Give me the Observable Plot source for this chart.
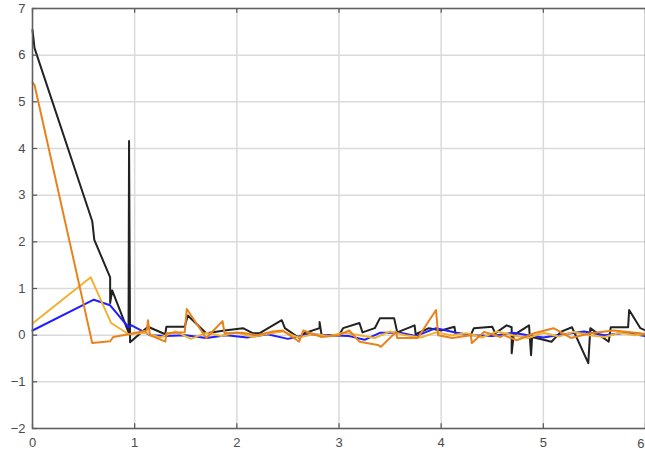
<!DOCTYPE html>
<html>
<head>
<meta charset="utf-8">
<script src="https://cdn.jsdelivr.net/npm/d3@7"></script>
<script src="https://cdn.jsdelivr.net/npm/@observablehq/plot@0.6"></script>
<style>
  html, body { margin: 0; padding: 0; background: #fff; }
  #chart svg { overflow: visible; }
</style>
</head>
<body>
<div id="chart"></div>
<script>
const xTicks = [0, 1, 2, 3, 4, 5, 6];
const yTicks = [-2, -1, 0, 1, 2, 3, 4, 5, 6, 7];

const blackX = [0, 0.02, 0.585, 0.605, 0.76, 0.76, 0.78, 0.94, 0.945, 0.955, 1.13, 1.3, 1.31, 1.49, 1.52, 1.7, 1.88, 2.06, 2.16, 2.22, 2.44, 2.47, 2.61, 2.66, 2.81, 2.81, 2.83, 3.0, 3.04, 3.2, 3.23, 3.35, 3.4, 3.54, 3.57, 3.74, 3.75, 3.88, 4.0, 4.13, 4.14, 4.29, 4.32, 4.5, 4.53, 4.64, 4.69, 4.69, 4.71, 4.86, 4.88, 4.89, 5.08, 5.17, 5.28, 5.44, 5.46, 5.64, 5.66, 5.83, 5.84, 5.95, 6.0];
const blackY = [6.54, 6.15, 2.44, 2.04, 1.24, 0.69, 0.96, 0.06, 4.16, -0.15, 0.18, 0.02, 0.18, 0.18, 0.42, 0.04, 0.1, 0.15, 0.04, 0.04, 0.32, 0.15, -0.06, 0.04, 0.15, 0.28, 0, 0, 0.15, 0.26, 0.06, 0.15, 0.36, 0.36, 0.06, 0.21, 0.02, 0.15, 0.1, 0.18, 0.04, 0, 0.15, 0.18, 0.04, 0.21, 0.17, -0.39, 0, 0.21, -0.43, -0.04, -0.14, 0.07, 0.17, -0.6, 0.15, -0.14, 0.17, 0.17, 0.54, 0.15, 0.1];

const blueX = [0, 0.6, 0.76, 0.94, 0.97, 1.15, 1.3, 1.5, 1.7, 1.9, 2.1, 2.3, 2.5, 2.7, 2.9, 3.1, 3.25, 3.4, 3.6, 3.75, 3.95, 4.15, 4.3, 4.5, 4.7, 4.85, 5.0, 5.2, 5.4, 5.6, 5.8, 6.0];
const blueY = [0.1, 0.76, 0.64, 0.17, 0.21, 0.0, -0.02, 0.0, -0.06, 0.0, -0.05, 0.02, -0.08, 0.02, 0.0, -0.02, -0.1, 0.05, 0.05, -0.02, 0.15, 0.05, 0.0, -0.02, 0.05, 0.0, -0.05, 0.02, 0.08, 0.0, 0.05, -0.02];

const yellowX = [0, 0.57, 0.77, 0.94, 1.1, 1.25, 1.4, 1.55, 1.7, 1.85, 2.0, 2.15, 2.3, 2.45, 2.6, 2.75, 2.9, 3.05, 3.2, 3.35, 3.5, 3.65, 3.8, 3.95, 4.1, 4.25, 4.4, 4.55, 4.7, 4.85, 5.0, 5.15, 5.3, 5.45, 5.6, 5.75, 5.9, 6.0];
const yellowY = [0.25, 1.24, 0.26, 0.02, 0.05, -0.05, 0.08, -0.08, 0.05, -0.02, 0.06, -0.04, 0.03, 0.08, -0.05, 0.02, -0.02, 0.05, 0.0, -0.06, 0.08, 0.0, -0.05, 0.06, 0.0, 0.04, -0.05, 0.08, 0.0, -0.06, 0.05, -0.03, 0.07, 0.0, -0.04, 0.05, 0.0, 0.02];

const orangeX = [0, 0.02, 0.585, 0.76, 0.79, 0.94, 1.12, 1.13, 1.15, 1.3, 1.31, 1.49, 1.51, 1.7, 1.86, 1.88, 2.05, 2.2, 2.35, 2.45, 2.61, 2.65, 2.83, 3.0, 3.1, 3.2, 3.38, 3.41, 3.56, 3.57, 3.77, 3.95, 3.97, 4.11, 4.29, 4.3, 4.42, 4.58, 4.61, 4.74, 4.91, 5.1, 5.27, 5.46, 5.69, 5.83, 5.95, 6.0];
const orangeY = [5.42, 5.36, -0.17, -0.13, -0.04, 0.02, 0.1, 0.32, 0, -0.14, 0.04, 0.06, 0.56, -0.06, 0.3, 0.04, 0.05, 0.0, 0.08, 0.1, -0.14, 0.1, -0.04, 0.0, 0.1, -0.14, -0.21, -0.25, 0.07, -0.06, -0.06, 0.54, 0.0, -0.06, 0, -0.17, 0.07, -0.04, 0, -0.11, 0.04, 0.15, -0.06, 0.04, 0.1, 0.07, 0.04, 0.02];

const toPts = (xs, ys) => xs.map((x, i) => ({x, y: ys[i]}));
const seriesLine = (xs, ys, color) =>
  Plot.line(toPts(xs, ys), {x: "x", y: "y", stroke: color, strokeWidth: 2, curve: "linear"});

const innerXTicks = xTicks.slice(0, -1);
const lastXTick = xTicks.slice(-1);

const chart = Plot.plot({
  width: 645,
  height: 452,
  marginLeft: 32,
  marginRight: 0,
  marginTop: 8,
  marginBottom: 24,
  x: {domain: [0, 6]},
  y: {domain: [-2, 7]},
  style: {fontFamily: "'Liberation Sans', Arial, sans-serif", fontSize: "13px", color: "#4a4a4a", background: "#fff"},
  marks: [
    Plot.ruleX(xTicks, {stroke: "#dadada", strokeWidth: 1.5}),
    Plot.ruleY(yTicks, {stroke: "#dadada", strokeWidth: 1.5}),
    seriesLine(blackX, blackY, "#222222"),
    seriesLine(blueX, blueY, "#1f1fff"),
    seriesLine(yellowX, yellowY, "#f0b232"),
    seriesLine(orangeX, orangeY, "#e8821c"),
    Plot.ruleY(yTicks, {x1: 0, x2: 0.05, stroke: "#555", strokeWidth: 1.2}),
    Plot.ruleX(xTicks, {y1: -2, y2: -1.9, stroke: "#555", strokeWidth: 1.2}),
    Plot.ruleX(xTicks, {y1: 7, y2: 6.9, stroke: "#555", strokeWidth: 1.2}),
    Plot.frame({stroke: "#606060", strokeWidth: 1.5}),
    Plot.axisX(innerXTicks, {tickSize: 0, tickPadding: 9, label: null, fill: "#4a4a4a"}),
    Plot.text(lastXTick, {x: d => d, y: -2, dy: 15.5, dx: -1, textAnchor: "end", fill: "#4a4a4a", fontSize: 13}),
    Plot.axisY(yTicks, {tickSize: 0, tickPadding: 7, label: null, fill: "#4a4a4a"})
  ]
});
document.getElementById("chart").appendChild(chart);
</script>
</body>
</html>
